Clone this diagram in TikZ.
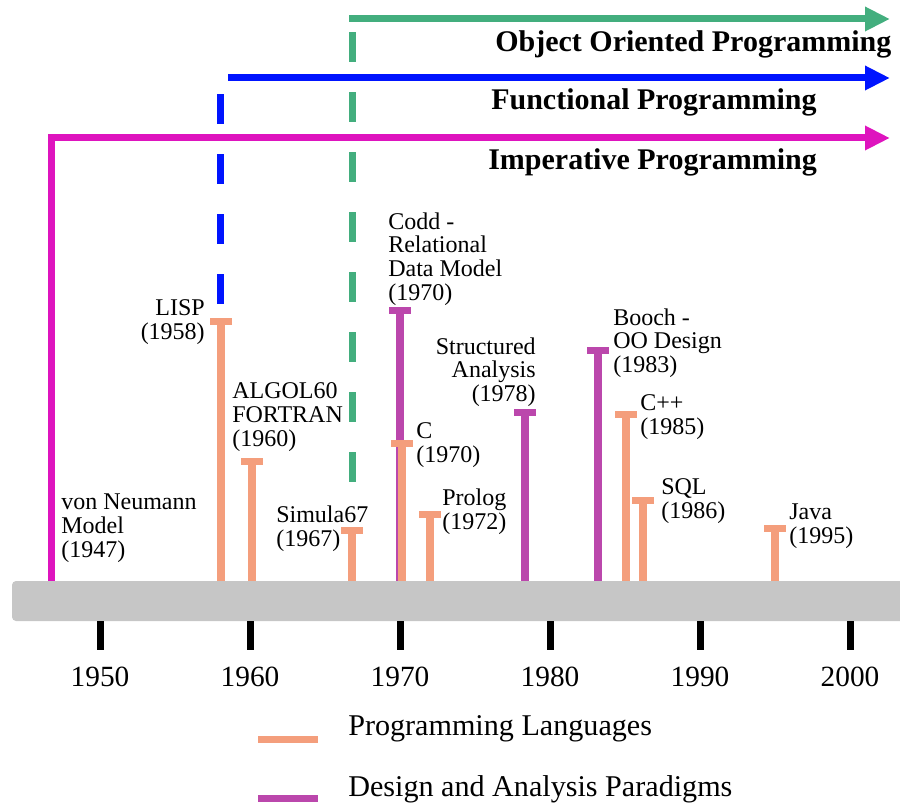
\documentclass[tikz,border=0pt]{standalone}
\usepackage{fontspec}
\setmainfont{Liberation Serif}
\usetikzlibrary{arrows.meta}

\definecolor{oogreen}{RGB}{67,174,126}
\definecolor{funblue}{RGB}{0,20,255}
\definecolor{impmag}{RGB}{222,20,190}
\definecolor{langsalmon}{RGB}{244,158,124}
\definecolor{designpurple}{RGB}{187,71,172}
\definecolor{bargray}{RGB}{198,198,198}

% a milestone: vertical stem from the time bar with a short cap on top
\newcommand\milestone[4]{% name, x, top of cap, style
  \coordinate (#1-base) at (#2,581);
  \coordinate (#1-top) at (#2,#3+3.5);
  \draw[#4] (#1-base) -- (#1-top);
  \draw[#4] (#1-top) ++(-11,0) -- ++(22,0);
}

\begin{document}
\begin{tikzpicture}[x=0.75pt,y=-0.75pt,
  paradigm/.style={line width=5.25pt,
    -{Triangle[length=18.75pt,width=17.25pt]}},
  dashpart/.style={line width=5.25pt,dash pattern=on 22.5pt off 22.5pt},
  lang/.style={line width=5.6pt,langsalmon},
  design/.style={line width=5.6pt,designpurple},
  lbl/.style={font=\fontsize{18pt}{17.8pt}\selectfont,inner sep=0pt},
  title/.style={font=\fontsize{22.5pt}{24pt}\selectfont\bfseries,inner sep=0pt,anchor=base west},
  year/.style={font=\fontsize{22pt}{24pt}\selectfont,inner sep=0pt},
  tick/.style={line width=5.25pt,black},
  legtext/.style={font=\fontsize{22.6pt}{24pt}\selectfont,inner sep=0pt,anchor=west}]
\useasboundingbox (0,0) rectangle (900,805);

% paradigm arrows
\coordinate (imp-start) at (51.5,581);
\coordinate (imp-corner) at (51.5,138);
\coordinate (imp-end) at (890,138);
\draw[paradigm,impmag] (imp-start) -- (imp-corner) -- (imp-end);

\coordinate (fun-low) at (220,304);
\coordinate (fun-high) at (220,78);
\coordinate (fun-start) at (228,78);
\coordinate (fun-end) at (890,78);
\draw[dashpart,funblue] (fun-low) -- (fun-high);
\draw[paradigm,funblue] (fun-start) -- (fun-end);

\coordinate (oo-low) at (352.5,482);
\coordinate (oo-high) at (352.5,19);
\coordinate (oo-start) at (349,19);
\coordinate (oo-end) at (890,19);
\draw[dashpart,oogreen] (oo-low) -- (oo-high);
\draw[paradigm,oogreen] (oo-start) -- (oo-end);

\node[title] (oo-title) at (495,52) {Object Oriented Programming};
\node[title] (fun-title) at (491,110) {Functional Programming};
\node[title] (imp-title) at (488,170) {Imperative Programming};

% milestones
\milestone{lisp}{221}{318}{lang}
\milestone{algol}{252}{458}{lang}
\milestone{simula}{352}{527}{lang}
\milestone{codd}{400}{307}{design}
\milestone{c}{402}{440}{lang}
\milestone{prolog}{430}{511}{lang}
\milestone{sa}{525}{409}{design}
\milestone{booch}{598}{347}{design}
\milestone{cpp}{626}{411}{lang}
\milestone{sql}{643}{497}{lang}
\milestone{java}{775}{525}{lang}

\node[lbl,anchor=west,align=left] (l-vn) at (61,528) {von Neumann\\Model\\(1947)};
\node[lbl,anchor=east,align=right] (l-lisp) at (205,322) {LISP\\(1958)};
\node[lbl,anchor=west,align=left] (l-algol) at (232,417) {ALGOL60\\FORTRAN\\(1960)};
\node[lbl,anchor=west,align=left] (l-simula) at (276,529) {Simula67\\(1967)};
\node[lbl,anchor=west,align=left] (l-codd) at (388,259) {Codd -\\Relational\\Data Model\\(1970)};
\node[lbl,anchor=west,align=left] (l-c) at (416,445) {C\\(1970)};
\node[lbl,anchor=west,align=left] (l-prolog) at (442,512) {Prolog\\(1972)};
\node[lbl,anchor=east,align=right] (l-sa) at (536,372) {Structured\\Analysis\\(1978)};
\node[lbl,anchor=west,align=left] (l-booch) at (613,343) {Booch -\\OO Design\\(1983)};
\node[lbl,anchor=west,align=left] (l-cpp) at (640,417) {C++\\(1985)};
\node[lbl,anchor=west,align=left] (l-sql) at (661,501) {SQL\\(1986)};
\node[lbl,anchor=west,align=left] (l-java) at (789,526) {Java\\(1995)};

% time bar
\fill[bargray,rounded corners=3pt] (12,581) rectangle (915,621);

% decade ticks and labels
\foreach \yr/\xx in {1950/100,1960/250,1970/400,1980/550,1990/700,2000/850}{
  \coordinate (t\yr-a) at (\xx,621);
  \coordinate (t\yr-b) at (\xx,650);
  \draw[tick] (t\yr-a) -- (t\yr-b);
  \node[year] (y\yr) at (\xx,677) {\yr};
}

% legend
\coordinate (leg1-a) at (258,739);
\coordinate (leg1-b) at (318,739);
\coordinate (leg2-a) at (258,798);
\coordinate (leg2-b) at (318,798);
\draw[lang,line width=5.25pt] (leg1-a) -- (leg1-b);
\draw[design,line width=5.25pt] (leg2-a) -- (leg2-b);
\node[legtext] (leg1) at (348,729) {Programming Languages};
\node[legtext] (leg2) at (348,789) {Design and Analysis Paradigms};
\end{tikzpicture}
\end{document}
